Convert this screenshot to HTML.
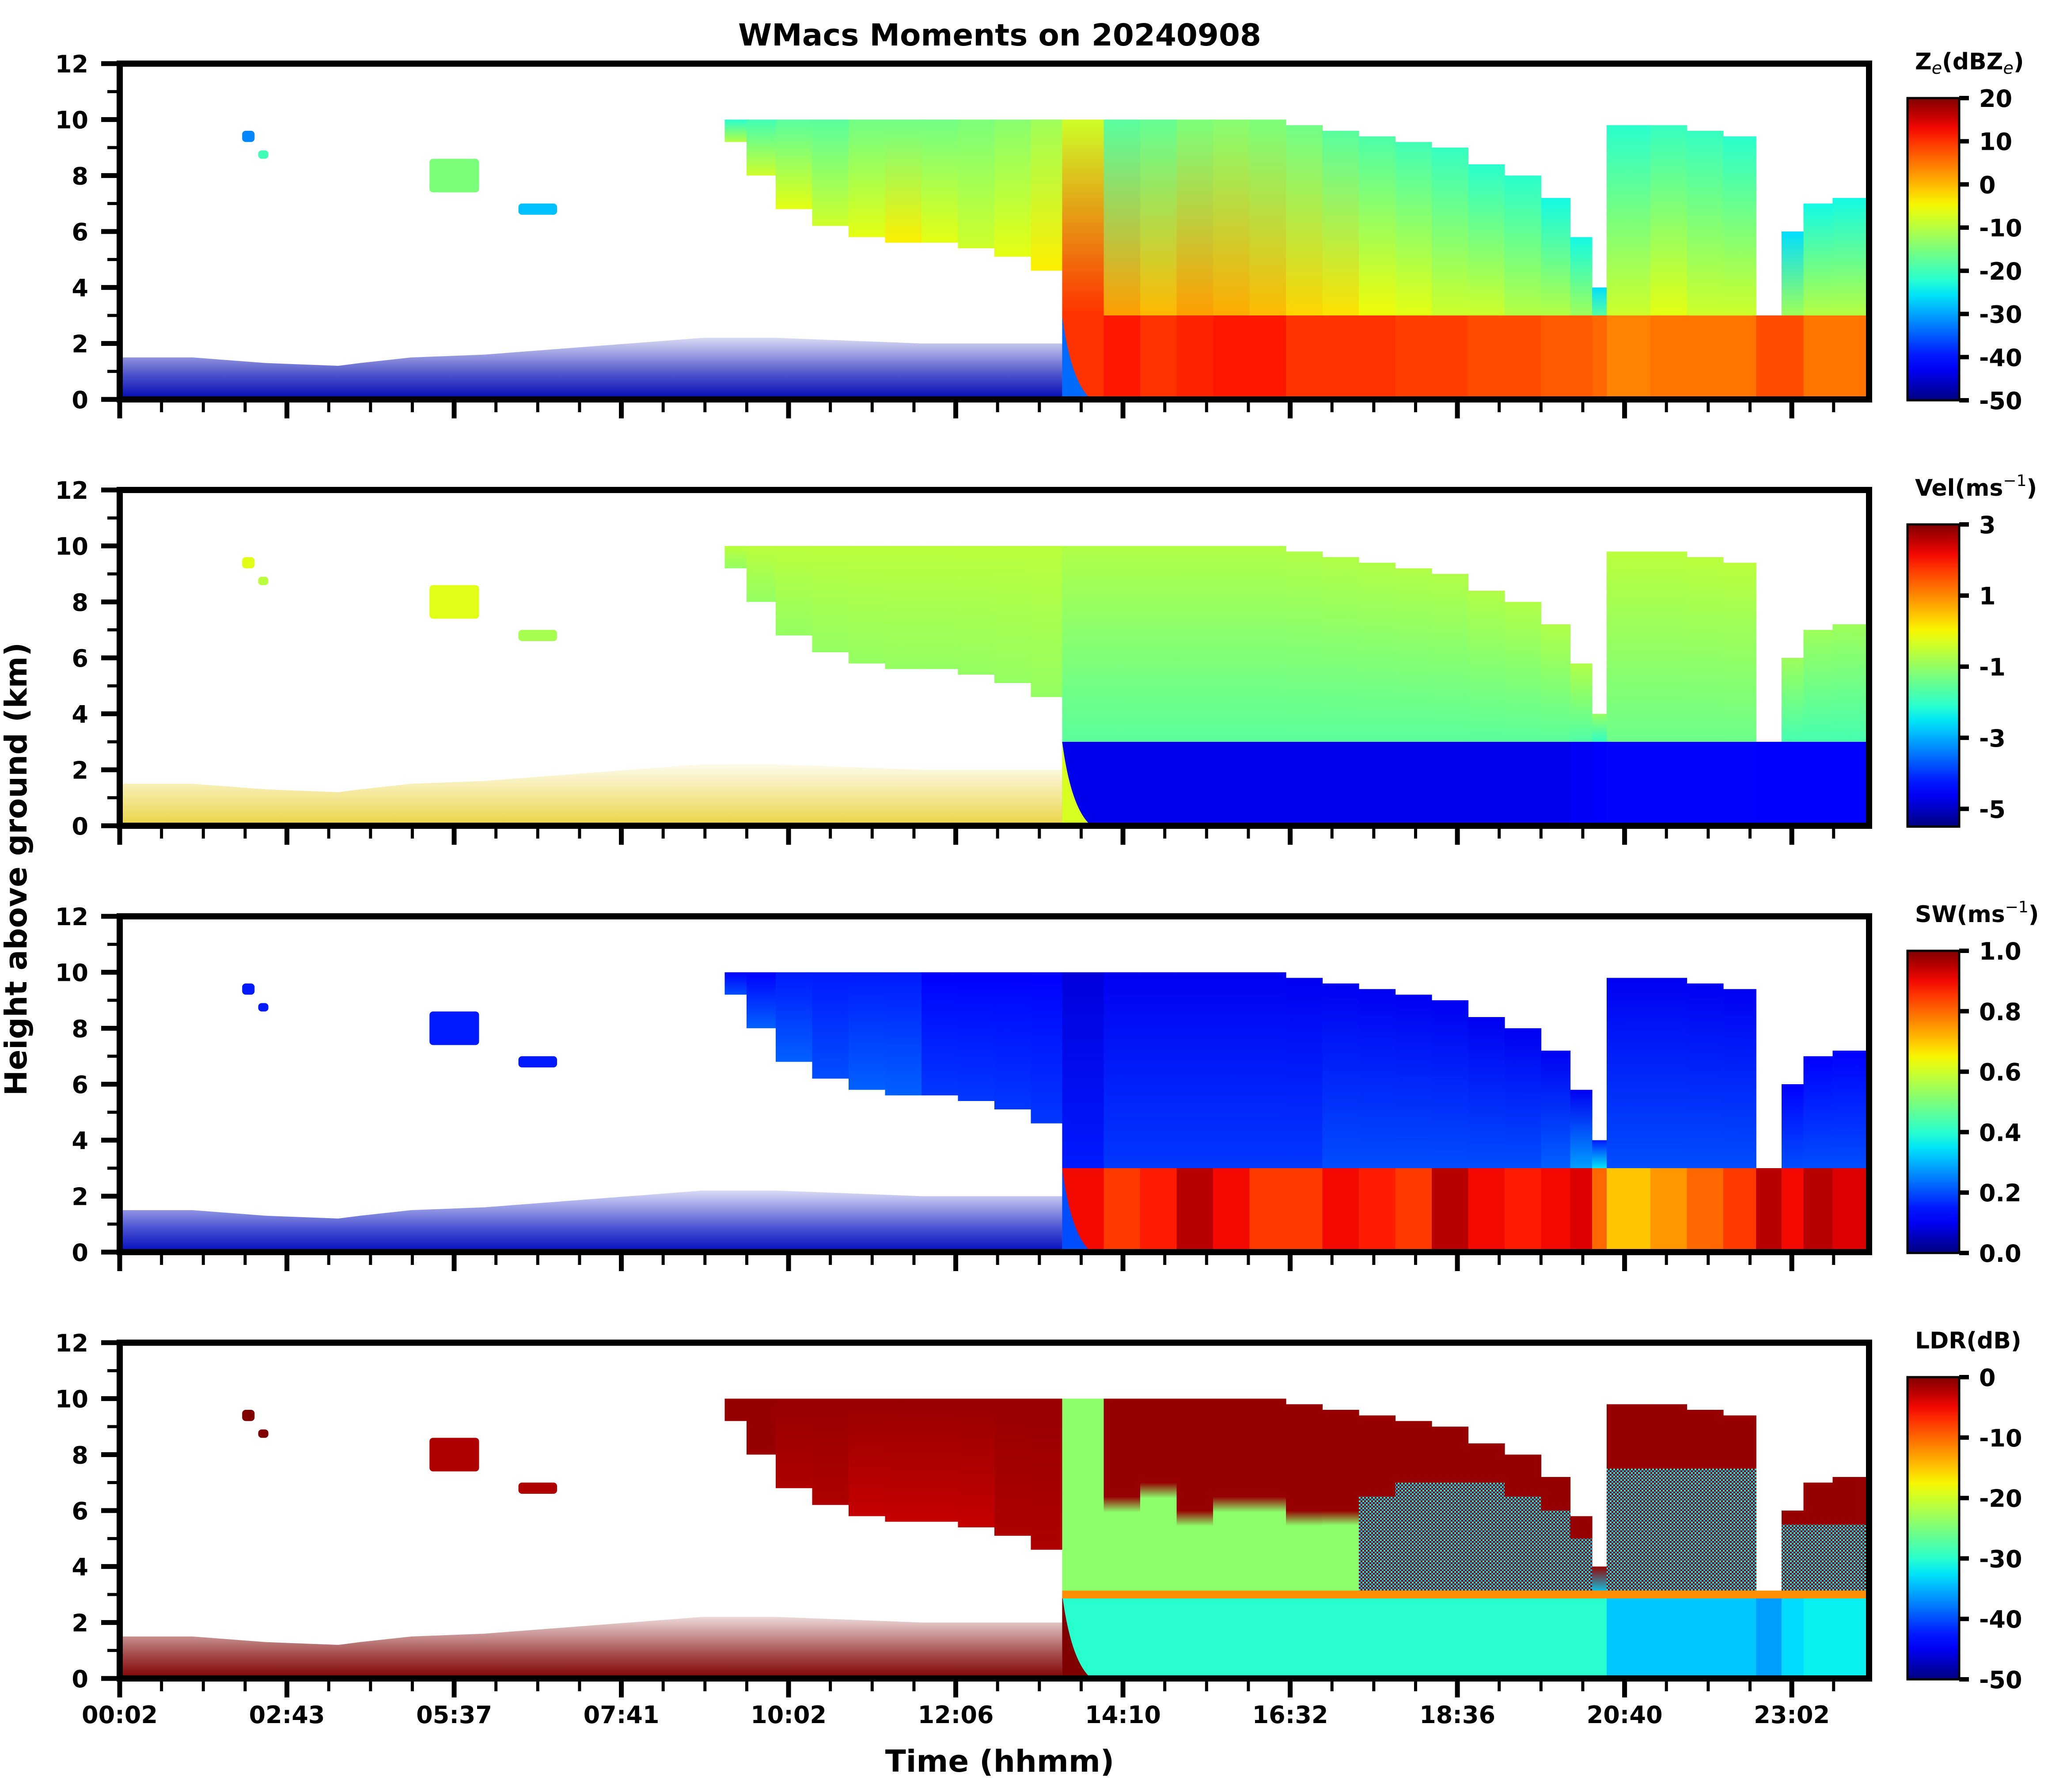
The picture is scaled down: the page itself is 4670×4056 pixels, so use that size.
<!DOCTYPE html>
<html><head><meta charset="utf-8"><title>WMacs Moments on 20240908</title>
<style>html,body{margin:0;padding:0;background:#fff}svg{display:block}text{font-family:"DejaVu Sans","Liberation Sans",sans-serif;font-weight:bold;fill:#000}</style>
</head><body>
<svg id="fig" xmlns="http://www.w3.org/2000/svg" width="4670" height="4056" viewBox="0 0 4670 4056">
<rect x="0" y="0" width="4670" height="4056" fill="#fff"/>
<defs id="defs">
<pattern id="speckle" x="0" y="0" width="8" height="8" patternUnits="userSpaceOnUse">
<rect x="0" y="0" width="8" height="8" fill="#800000"/>
<rect x="0" y="0" width="4" height="4" fill="#10b8f0"/>
<rect x="4" y="4" width="4" height="4" fill="#30e0d0"/>
</pattern>
</defs>
<text x="2263" y="103" font-size="69" text-anchor="middle">WMacs Moments on 20240908</text>
<text x="0" y="0" font-size="69" text-anchor="middle" transform="translate(60,1967) rotate(-90)">Height above ground (km)</text>
<text x="2263" y="4010" font-size="69" text-anchor="middle">Time (hhmm)</text>
<g id="panels"></g>
</svg>
<script>
// ---- data (hours of day, heights km) ----
const colStart = [8.3,8.6,9.0,9.5,10.0,10.5,11.0,11.5,12.0,12.5,
  12.93,13.5,14.0,14.5,15.0,15.5,16.0,16.5,17.0,17.5,18.0,18.5,19.0,19.5,19.9,20.2,20.4,21.0,21.5,22.0,22.45,22.8,23.1,23.5];
const colEnd = 24.0;
const cloudTop = [10,10,10,10,10,10,10,10,10,10,
  10,10,10,10,10,10,9.8,9.6,9.4,9.2,9.0,8.4,8.0,7.2,5.8,4.0,9.8,9.8,9.6,9.4,3.0,6.0,7.0,7.2];
const cloudBase = [9.2,8.0,6.8,6.2,5.8,5.6,5.6,5.4,5.1,4.6,
  3,3,3,3,3,3,3,3,3,3,3,3,3,3,3,3,3,3,3,3,3,3,3,3];
const rainOnset = 12.93;
const meltKm = 3.0;

const zeTop = [-22,-20,-18,-18,-16,-16,-16,-15,-14,-12,
  -8,-18,-17,-15,-14,-15,-16,-18,-19,-20,-21,-22,-22,-24,-24,-26,-22,-21,-21,-22,-25,-26,-24,-24];
const zeBot = [-10,-8,-6,-8,-6,-4,-6,-8,-6,-4,
  10,2,0,2,1,0,-2,-3,-5,-6,-8,-8,-10,-10,-12,-18,-8,-6,-8,-8,-15,-12,-10,-10];
const zeRain = [10,12,10,11,12,12,10,10,10,9,9,8,8,7,7,6,4,5,5,5,8,8,5,5];

const velTop = [-0.6,-0.6,-0.6,-0.6,-0.6,-0.6,-0.6,-0.6,-0.6,-0.6,
  -0.7,-0.7,-0.7,-0.7,-0.7,-0.7,-0.7,-0.7,-0.7,-0.7,-0.7,-0.7,-0.7,-0.7,-0.7,-1.0,-0.6,-0.6,-0.6,-0.6,-0.8,-0.9,-0.9,-0.9];
const velBot = [-1.0,-1.0,-1.0,-1.0,-1.0,-1.0,-1.0,-1.0,-1.0,-1.0,
  -1.6,-1.6,-1.6,-1.6,-1.6,-1.6,-1.6,-1.6,-1.6,-1.6,-1.6,-1.6,-1.6,-1.6,-1.7,-2.0,-1.4,-1.4,-1.4,-1.4,-1.8,-1.8,-1.8,-1.8];
const velRain = [-4.7,-4.7,-4.7,-4.7,-4.7,-4.7,-4.7,-4.7,-4.7,-4.7,-4.7,-4.7,-4.7,-4.7,-4.6,-4.5,-4.4,-4.4,-4.4,-4.4,-4.5,-4.5,-4.5,-4.5];

const swTop = [0.12,0.12,0.15,0.15,0.15,0.15,0.12,0.12,0.12,0.12,
  0.08,0.1,0.1,0.1,0.1,0.1,0.1,0.1,0.1,0.1,0.1,0.1,0.1,0.1,0.1,0.15,0.1,0.1,0.1,0.1,0.1,0.12,0.12,0.12];
const swBot = [0.2,0.22,0.22,0.2,0.22,0.22,0.18,0.18,0.18,0.18,
  0.15,0.18,0.18,0.18,0.18,0.18,0.18,0.2,0.2,0.2,0.2,0.2,0.2,0.22,0.28,0.35,0.2,0.2,0.2,0.2,0.25,0.2,0.2,0.2];
const swRain = [0.9,0.85,0.88,0.95,0.9,0.85,0.85,0.9,0.88,0.85,0.95,0.9,0.88,0.9,0.92,0.8,0.7,0.75,0.8,0.85,0.95,0.9,0.95,0.92];

const ldrTop = [-1,-1,-1,-1,-1,-1,-1,-1,-1,-1,
  -24,-1,-1,-1,-1,-1,-1,-1,-1,-1,-1,-1,-1,-1,-1,-1,-1,-1,-1,-1,-1,-1,-1,-1];
const ldrBot = [-1,-1,-2,-2,-3,-3,-3,-3,-2,-2,
  -24,-24,-24,-24,-24,-24,-24,-24,-33,-33,-33,-33,-33,-33,-33,-33,-33,-33,-33,-33,-2,-33,-33,-33];
const ldrSplitKm = [0,0,0,0,0,0,0,0,0,0,
  0,6.5,7,6,6.5,6.5,6,6,6.5,7,7,7,6.5,6,5,0,7.5,7.5,7.5,7.5,0,5.5,5.5,5.5];
const ldrRain = [-30,-30,-30,-30,-30,-30,-30,-30,-30,-30,-30,-30,-30,-30,-30,-30,-34,-34,-34,-34,-36,-33,-32,-32];
const ldrMelt = -12;

const noiseHour = [0,1,2,3,3.3,4,5,6,7,8,9,10,11,12,12.93];
const noiseTopKm = [1.5,1.5,1.3,1.2,1.3,1.5,1.6,1.8,2.0,2.2,2.2,2.1,2.0,2.0,2.0];

const patchH0 = [1.68,1.9,4.25,5.47];
const patchH1 = [1.85,2.04,4.93,6.0];
const patchK0 = [9.2,8.6,7.4,6.6];
const patchK1 = [9.6,8.9,8.6,7.0];
const patchZe = [-32,-20,-15,-28];
const patchVel = [-0.2,-0.6,-0.2,-0.8];
const patchSW = [0.15,0.15,0.15,0.15];
const patchLDR = [0,0,-2,-2];

const xTickLabels = ["00:02","02:43","05:37","07:41","10:02","12:06","14:10","16:32","18:36","20:40","23:02"];
const xTickHours = [0,2.294,4.588,6.882,9.176,11.47,13.764,16.058,18.352,20.646,22.94];
const yTicks = [0,2,4,6,8,10,12];

const zeTicks = [20,10,0,-10,-20,-30,-40,-50];
const velTicks = [3,1,-1,-3,-5];
const swTicks = [1.0,0.8,0.6,0.4,0.2,0.0];
const ldrTicks = [0,-10,-20,-30,-40,-50];

// ---- layout ----
const NS = "http://www.w3.org/2000/svg";
const X0 = 271, X1 = 4231, PH = 760;
const panelTops = [144,1109,2074,3039];
function xOf(h){ return X0 + h/24*(X1-X0); }
function yOf(top,km){ return top + (12-km)/12*PH; }

function jet(t){
  t = Math.max(0,Math.min(1,t));
  function seg(pts){ for(let i=0;i<pts.length-1;i++){ const a=pts[i],b=pts[i+1]; if(t>=a[0]&&t<=b[0]){ return a[1]+(b[1]-a[1])*(t-a[0])/(b[0]-a[0]); } } return pts[pts.length-1][1]; }
  const r = seg([[0,0],[0.35,0],[0.66,1],[0.89,1],[1,0.5]]);
  const g = seg([[0,0],[0.125,0],[0.375,1],[0.64,1],[0.91,0],[1,0]]);
  const b = seg([[0,0.5],[0.11,1],[0.34,1],[0.65,0],[1,0]]);
  return "rgb("+Math.round(r*255)+","+Math.round(g*255)+","+Math.round(b*255)+")";
}
function el(tag, attrs, parent){ const e=document.createElementNS(NS,tag); for(const k in attrs) e.setAttribute(k,attrs[k]); parent.appendChild(e); return e; }

const defs = document.getElementById('defs');
const root = document.getElementById('panels');

const panels = [
  {key:'ze', min:-50, max:20, top:zeTop, bot:zeBot, rain:zeRain, patch:patchZe, noise:'#0008b4', nop:[1,0.7,0.15], wedge:-34, ticks:zeTicks, fmt:v=>String(v)},
  {key:'vel', min:-5.5, max:3, top:velTop, bot:velBot, rain:velRain, patch:patchVel, noise:'#ead23a', nop:[0.95,0.6,0.1], wedge:-0.3, ticks:velTicks, fmt:v=>String(v)},
  {key:'sw', min:0, max:1, top:swTop, bot:swBot, rain:swRain, patch:patchSW, noise:'#000cc0', nop:[1,0.7,0.15], wedge:0.2, ticks:swTicks, fmt:v=>v.toFixed(1)},
  {key:'ldr', min:-50, max:0, top:ldrTop, bot:ldrBot, rain:ldrRain, patch:patchLDR, noise:'#800000', nop:[1,0.7,0.15], wedge:0, ticks:ldrTicks, fmt:v=>String(v)}
];

panels.forEach((p, pi) => {
  const T = panelTops[pi];
  const norm = v => (v - p.min)/(p.max - p.min);
  const g = el('g', {}, root);
  
  

  const cp = el('clipPath', {id:'clip'+pi}, defs);
  el('rect', {x:X0, y:T, width:X1-X0, height:PH}, cp);
  const plot = el('g', {'clip-path':'url(#clip'+pi+')'}, g);
  
  

  // noise envelope
  const ng = el('linearGradient', {id:'ng'+pi, x1:0, y1:1, x2:0, y2:0}, defs);
  el('stop', {offset:0, 'stop-color':p.noise, 'stop-opacity':p.nop[0]}, ng);
  el('stop', {offset:0.4, 'stop-color':p.noise, 'stop-opacity':p.nop[1]}, ng);
  el('stop', {offset:1, 'stop-color':p.noise, 'stop-opacity':p.nop[2]}, ng);
  let pts = [];
  noiseHour.forEach((h,i)=>{ pts.push(xOf(h)+','+yOf(T,noiseTopKm[i])); });
  pts.push(xOf(noiseHour[noiseHour.length-1])+','+yOf(T,0));
  pts.push(xOf(noiseHour[0])+','+yOf(T,0));
  const noise = el('polygon', {points:pts.join(' '), fill:'url(#ng'+pi+')'}, plot);
  
  

  // isolated cloud patches
  patchH0.forEach((h0,i)=>{
    const r = el('rect', {x:xOf(h0), y:yOf(T,patchK1[i]), width:xOf(patchH1[i])-xOf(h0), height:yOf(T,patchK0[i])-yOf(T,patchK1[i]), fill:jet(norm(p.patch[i])), rx:8}, plot);
    
    
  });

  // cloud columns
  colStart.forEach((h,i)=>{
    const h1 = i+1<colStart.length ? colStart[i+1] : colEnd;
    const x = xOf(h), w = xOf(h1)-xOf(h)+0.6;
    if (cloudTop[i] > cloudBase[i]) {
      const gid = 'cg'+pi+'_'+i;
      const lg = el('linearGradient', {id:gid, x1:0, y1:0, x2:0, y2:1}, defs);
      const split = (p.key==='ldr') ? ldrSplitKm[i] : 0;
      el('stop', {offset:0, 'stop-color':jet(norm(p.top[i]))}, lg);
      if (split > cloudBase[i] && split < cloudTop[i]) {
        const f = (cloudTop[i]-split)/(cloudTop[i]-cloudBase[i]);
        el('stop', {offset:f, 'stop-color':jet(norm(p.top[i]))}, lg);
        el('stop', {offset:Math.min(1,f+0.08), 'stop-color':jet(norm(p.bot[i]))}, lg);
      }
      el('stop', {offset:1, 'stop-color':jet(norm(p.bot[i]))}, lg);
      const r = el('rect', {x:x, y:yOf(T,cloudTop[i]), width:w, height:yOf(T,cloudBase[i])-yOf(T,cloudTop[i]), fill:'url(#'+gid+')'}, plot);
      
      
      if (p.key==='ldr' && p.bot[i] <= -33 && split > cloudBase[i]) {
        const s = el('rect', {x:x, y:yOf(T,split), width:w, height:yOf(T,cloudBase[i])-yOf(T,split), fill:'url(#speckle)'}, plot);
        
        
      }
    }
    if (h >= rainOnset) {
      const ri = i - colStart.indexOf(rainOnset);
      const r = el('rect', {x:x, y:yOf(T,meltKm), width:w, height:yOf(T,0)-yOf(T,meltKm), fill:jet(norm(p.rain[ri]))}, plot);
      
      
    }
  });

  // rain onset wedge
  const wx = xOf(rainOnset), wx2 = xOf(rainOnset+0.4);
  const wedge = el('path', {d:'M'+wx+','+yOf(T,meltKm)+' Q'+(wx+20)+','+yOf(T,0.6)+' '+wx2+','+yOf(T,0)+' L'+wx+','+yOf(T,0)+' Z', fill:jet(norm(p.wedge))}, plot);
  
  

  if (p.key === 'ldr') {
    const mb = el('rect', {x:xOf(rainOnset), y:yOf(T,meltKm+0.14), width:xOf(24)-xOf(rainOnset), height:yOf(T,meltKm-0.14)-yOf(T,meltKm+0.14), fill:jet(norm(ldrMelt))}, plot);
    
    
  }

  // y ticks
  for (let k=0;k<=12;k++){
    const y = yOf(T,k), major = (k%2===0);
    const t = el('line', {x1:X0-(major?42:28), x2:X0, y1:y, y2:y, stroke:'#000', 'stroke-width':major?11:7}, g);
    
    
  }
  yTicks.forEach(k=>{
    const tx = el('text', {x:200, y:yOf(T,k)+20, 'font-size':54, 'text-anchor':'end'}, g);
    tx.textContent = String(k);
    
    
  });

  // x ticks
  const step = xTickHours[1]-xTickHours[0];
  for (let k=0; k*step/4 <= 24.001; k++){
    const h = k*step/4, x = xOf(h), major = (k%4===0);
    const t = el('line', {x1:x, x2:x, y1:T+PH, y2:T+PH+(major?43:29), stroke:'#000', 'stroke-width':major?11:7}, g);
    
    
  }
  if (pi === 3) {
    xTickLabels.forEach((lab,i)=>{
      const tx = el('text', {x:xOf(xTickHours[i]), y:3900, 'font-size':54, 'text-anchor':'middle'}, g);
      tx.textContent = lab;
      
      
    });
  }

  // frame
  const fr = el('rect', {x:X0, y:T, width:X1-X0, height:PH, fill:'none', stroke:'#000', 'stroke-width':14}, g);
  
  

  // colorbar
  const cbX = 4318, cbW = 117, cbY0 = T+78, cbY1 = T+762;
  const cg = el('linearGradient', {id:'cb'+pi, x1:0, y1:1, x2:0, y2:0}, defs);
  for (let s=0;s<=20;s++){ el('stop', {offset:s/20, 'stop-color':jet(s/20)}, cg); }
  const cb = el('rect', {x:cbX, y:cbY0, width:cbW, height:cbY1-cbY0, fill:'url(#cb'+pi+')', stroke:'#000', 'stroke-width':5}, g);
  
  
  p.ticks.forEach(v=>{
    const y = cbY1 - (v-p.min)/(p.max-p.min)*(cbY1-cbY0);
    const t = el('line', {x1:cbX+cbW, x2:cbX+cbW+22, y1:y, y2:y, stroke:'#000', 'stroke-width':10}, g);
    
    
    const tx = el('text', {x:4480, y:y+20, 'font-size':54}, g);
    tx.textContent = p.fmt(v);
    
    
  });
});

// colorbar titles
const cbTitles = [
  [['Z',0],['e',1],['(dBZ',0],['e',1],[')',0]],
  [['Vel(ms',0],['−1',2],[')',0]],
  [['SW(ms',0],['−1',2],[')',0]],
  [['LDR(dB)',0]]
];
cbTitles.forEach((parts,pi)=>{
  const tx = el('text', {x:4335, y:panelTops[pi]+13, 'font-size':52}, root);
  
  
  parts.forEach(([s,kind])=>{
    const ts = el('tspan', {}, tx);
    if (kind===1){ ts.setAttribute('font-size','38'); ts.setAttribute('font-style','italic'); ts.setAttribute('font-weight','normal'); ts.setAttribute('dy','10'); }
    else if (kind===2){ ts.setAttribute('font-size','36'); ts.setAttribute('font-weight','normal'); ts.setAttribute('dy','-22'); }
    else { ts.setAttribute('dy', '0'); }
    ts.textContent = s;
  });
  let acc = 0;
  Array.from(tx.childNodes).forEach(n=>{
    const d = parseFloat(n.getAttribute('dy')) || 0;
    if (n.getAttribute('font-size')) { n.setAttribute('dy', String(d - acc)); acc = d; }
    else { n.setAttribute('dy', String(-acc)); acc = 0; }
  });
});
</script>
</body></html>
